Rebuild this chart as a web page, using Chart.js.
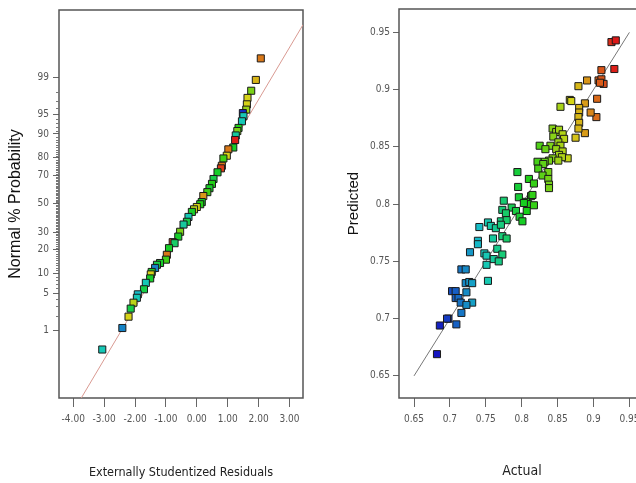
<!DOCTYPE html>
<html>
<head>
<meta charset="utf-8">
<script src="https://cdn.jsdelivr.net/npm/chart.js@4.4.1/dist/chart.umd.min.js"></script>
<style>
  html, body { margin: 0; padding: 0; background: #fff; overflow: hidden; width: 636px; height: 483px; }
  #left { position: absolute; left: 0; top: 0; }
  #right { position: absolute; left: 318px; top: 0; }
</style>
</head>
<body>
<canvas id="left" width="318" height="483"></canvas>
<canvas id="right" width="340" height="483"></canvas>
<script>
// --- normal plot of residuals ---
const residTicks = [-4, -3, -2, -1, 0, 1, 2, 3];
const probTicks = [1, 5, 10, 20, 30, 50, 70, 80, 90, 95, 99];
const probMinor = [2, 3, 4, 6, 7, 8, 9, 11, 12, 13, 14, 15, 16, 17, 18, 19, 21, 22, 23, 24, 25, 26, 27, 28, 29,
  31, 32, 33, 34, 35, 36, 37, 38, 39, 40, 41, 42, 43, 44, 45, 46, 47, 48, 49, 51, 52, 53, 54, 55, 56, 57, 58, 59,
  60, 61, 62, 63, 64, 65, 66, 67, 68, 69, 71, 72, 73, 74, 75, 76, 77, 78, 79, 81, 82, 83, 84, 85, 86, 87, 88, 89,
  91, 92, 93, 94, 96, 97, 98];
const residuals = [2.07, 1.91, 1.76, 1.64, 1.62, 1.60, 1.49, 1.51, 1.46, 1.35, 1.31, 1.26, 1.24, 1.18, 1.02, 0.97,
  0.86, 0.81, 0.78, 0.67, 0.54, 0.49, 0.41, 0.34, 0.21, 0.16, 0.11, 0.00, -0.09, -0.16, -0.27, -0.32, -0.43, -0.54,
  -0.60, -0.78, -0.72, -0.90, -0.97, -1.00, -1.19, -1.29, -1.35, -1.46, -1.49, -1.51, -1.65, -1.71, -1.91, -1.94,
  -2.05, -2.14, -2.21, -2.41, -3.06];
const normalPct = [99.62, 98.85, 98.1, 97.4, 96.6, 95.8, 95.2, 94.6, 93.5, 91.8, 90.9, 89.5, 87.9, 84.9, 84.1, 81.1,
  79.7, 75.7, 74.2, 71.8, 67.5, 64.2, 61.2, 58.4, 55.6, 51.2, 49.6, 47.6, 45.9, 44.0, 40.4, 37.0, 35.1, 30.3,
  27.3, 24.0, 23.4, 20.7, 17.4, 15.2, 13.8, 13.1, 11.9, 10.5, 9.7, 8.5, 7.3, 5.8, 4.8, 4.2,
  3.45, 2.7, 1.9, 1.12, 0.37];
// response value of each run (sets the point colour)
const residShade = [0.90, 0.88, 0.84, 0.87, 0.87, 0.85, 0.69, 0.75, 0.75, 0.81, 0.84, 0.76, 0.93, 0.80, 0.90, 0.87,
  0.82, 0.90, 0.92, 0.80, 0.79, 0.81, 0.80, 0.82, 0.89, 0.80, 0.81, 0.87, 0.86, 0.80, 0.75, 0.79, 0.76, 0.84,
  0.80, 0.92, 0.78, 0.80, 0.90, 0.82, 0.80, 0.79, 0.72, 0.80, 0.87, 0.80, 0.75, 0.79, 0.74, 0.75,
  0.86, 0.79, 0.87, 0.72, 0.75];
const refLineX = [-3.74, 3.44];
const refLineZ = [-3.57, 3.29];

// --- predicted vs actual ---
const fitTicks = [0.65, 0.7, 0.75, 0.8, 0.85, 0.9, 0.95];
const actual = [0.925, 0.931, 0.929, 0.911, 0.907, 0.911, 0.914, 0.909, 0.905, 0.904, 0.896, 0.891, 0.879, 0.888, 0.888,
  0.880, 0.880, 0.879, 0.880, 0.879, 0.875, 0.867, 0.869, 0.854,
  0.843, 0.848, 0.852, 0.857, 0.844, 0.859, 0.851, 0.854, 0.840, 0.825, 0.833, 0.848, 0.857, 0.852, 0.864, 0.856,
  0.843, 0.851, 0.838, 0.832, 0.822, 0.830, 0.823, 0.837, 0.829, 0.837, 0.838, 0.838,
  0.794, 0.810, 0.817, 0.795, 0.796, 0.813, 0.815, 0.806, 0.809, 0.817, 0.803, 0.775, 0.786, 0.792, 0.807, 0.773,
  0.778, 0.797, 0.801, 0.771, 0.779, 0.753, 0.757, 0.764, 0.771, 0.741, 0.773, 0.779, 0.760,
  0.739, 0.739, 0.728, 0.748, 0.751, 0.766, 0.773, 0.761, 0.768, 0.751, 0.716, 0.722, 0.753, 0.722, 0.727, 0.731,
  0.703, 0.708, 0.723, 0.708, 0.712, 0.715, 0.731, 0.723, 0.716, 0.698, 0.696, 0.709, 0.686, 0.682];
const predicted = [0.9415, 0.943, 0.918, 0.917, 0.908, 0.909, 0.905, 0.906, 0.892, 0.876, 0.880, 0.908, 0.903, 0.888, 0.862,
  0.884, 0.880, 0.876, 0.871, 0.866, 0.858, 0.891, 0.890, 0.885,
  0.866, 0.863, 0.865, 0.861, 0.859, 0.857, 0.854, 0.851, 0.851, 0.851, 0.848, 0.848, 0.846, 0.843, 0.840, 0.841,
  0.840, 0.838, 0.838, 0.837, 0.837, 0.835, 0.831, 0.828, 0.825, 0.822, 0.817, 0.814,
  0.828, 0.822, 0.818, 0.815, 0.806, 0.807, 0.808, 0.802, 0.800, 0.799, 0.801, 0.803, 0.797, 0.794, 0.794, 0.795,
  0.792, 0.789, 0.785, 0.785, 0.786, 0.784, 0.781, 0.779, 0.782, 0.780, 0.772, 0.770, 0.770,
  0.768, 0.765, 0.758, 0.757, 0.755, 0.761, 0.756, 0.752, 0.750, 0.747, 0.743, 0.743, 0.733, 0.731, 0.732, 0.731,
  0.724, 0.724, 0.723, 0.718, 0.718, 0.714, 0.714, 0.712, 0.705, 0.700, 0.700, 0.695, 0.694, 0.669];
const diagonal = [0.65, 0.95];

// inverse normal cdf (Acklam) for the probability axis
function probit(p) {
  const a = [-39.69683028665376, 220.9460984245205, -275.9285104469687, 138.3577518672690, -30.66479806614716, 2.506628277459239];
  const b = [-54.47609879822406, 161.5858368580409, -155.6989798598866, 66.80131188771972, -13.28068155288572];
  const c = [-0.007784894002430293, -0.3223964580411365, -2.400758277161838, -2.549732539343734, 4.374664141464968, 2.938163982698783];
  const d = [0.007784695709041462, 0.3224671290700398, 2.445134137142996, 3.754408661907416];
  let q, r;
  if (p < 0.02425) {
    q = Math.sqrt(-2 * Math.log(p));
    return (((((c[0]*q+c[1])*q+c[2])*q+c[3])*q+c[4])*q+c[5]) / ((((d[0]*q+d[1])*q+d[2])*q+d[3])*q+1);
  }
  if (p > 1 - 0.02425) {
    q = Math.sqrt(-2 * Math.log(1 - p));
    return -(((((c[0]*q+c[1])*q+c[2])*q+c[3])*q+c[4])*q+c[5]) / ((((d[0]*q+d[1])*q+d[2])*q+d[3])*q+1);
  }
  q = p - 0.5; r = q * q;
  return (((((a[0]*r+a[1])*r+a[2])*r+a[3])*r+a[4])*r+a[5])*q / (((((b[0]*r+b[1])*r+b[2])*r+b[3])*r+b[4])*r+1);
}

const lo = 0.682, hi = 0.931;
function shade(v) {
  const t = Math.min(1, Math.max(0, (v - lo) / (hi - lo)));
  return `hsl(${Math.round(240 * (1 - t))}, 80%, ${42 + 6 * t}%)`;
}

const narrow = '"DejaVu Sans Condensed", sans-serif';
const sans = '"Liberation Sans", Arial, sans-serif';

const frame = {
  id: 'frame',
  beforeDatasetsDraw(chart) {
    const { ctx, chartArea: a } = chart;
    ctx.save();
    ctx.strokeStyle = '#555';
    ctx.lineWidth = 1.5;
    ctx.strokeRect(a.left, a.top, a.right - a.left, a.bottom - a.top);
    ctx.restore();
  }
};

const minorTicks = {
  id: 'minorTicks',
  afterDraw(chart) {
    if (!chart.options.minorPct) return;
    const { ctx, chartArea: a } = chart;
    const y = chart.scales.y;
    ctx.save();
    ctx.strokeStyle = '#777';
    ctx.lineWidth = 1;
    ctx.beginPath();
    probMinor.forEach(p => {
      const py = Math.round(y.getPixelForValue(probit(p / 100))) + 0.5;
      ctx.moveTo(a.left - 3, py);
      ctx.lineTo(a.left, py);
    });
    ctx.stroke();
    ctx.restore();
  }
};

function axis(extra) {
  return Object.assign({
    type: 'linear',
    border: { display: false },
  }, extra);
}

const tickFont = { family: narrow, size: 10 };
const titleFont = { family: narrow, size: 12.5 };

new Chart(document.getElementById('left'), {
  type: 'scatter',
  data: {
    datasets: [{
      data: residuals.map((r, i) => ({ x: r, y: probit(normalPct[i] / 100) })),
      pointStyle: 'rect',
      pointRadius: 5,
      backgroundColor: residShade.map(shade),
      borderColor: '#1a1a1a',
      borderWidth: 1,
      order: 0
    }, {
      data: refLineX.map((x, i) => ({ x: x, y: refLineZ[i] })),
      showLine: true,
      borderColor: '#d99a92',
      borderWidth: 1,
      pointRadius: 0,
      order: 1
    }]
  },
  options: {
    responsive: false,
    animation: false,
    minorPct: true,
    layout: { padding: { top: 6, right: 15, left: 0, bottom: 0 } },
    plugins: { legend: { display: false }, tooltip: { enabled: false } },
    scales: {
      x: axis({
        min: -4.46, max: 3.436,
        afterFit(s) { s.height = 85; },
        afterBuildTicks(s) { s.ticks = residTicks.map(v => ({ value: v })); },
        grid: { drawOnChartArea: false, color: '#666', tickLength: 9 },
        ticks: { callback: v => v.toFixed(2), color: '#555', font: tickFont, padding: 6, maxRotation: 0, autoSkip: false },
        title: { display: true, text: 'Externally Studentized Residuals', color: '#222', font: titleFont, padding: { top: 0, bottom: 3 } }
      }),
      y: axis({
        min: -3.569, max: 3.558,
        afterFit(s) { s.width = 59; },
        afterBuildTicks(s) { s.ticks = probTicks.map(p => ({ value: probit(p / 100) })); },
        grid: { drawOnChartArea: false, color: '#666', tickLength: 6 },
        ticks: { callback: (v, i) => String(probTicks[i]), color: '#555', font: tickFont, padding: 4, autoSkip: false },
        title: { display: true, text: 'Normal % Probability', color: '#111', font: { family: sans, size: 16 }, padding: { top: 6, bottom: 0 } }
      })
    }
  },
  plugins: [frame, minorTicks]
});

new Chart(document.getElementById('right'), {
  type: 'scatter',
  data: {
    datasets: [{
      data: actual.map((a, i) => ({ x: a, y: predicted[i] })),
      pointStyle: 'rect',
      pointRadius: 5,
      backgroundColor: actual.map(shade),
      borderColor: '#1a1a1a',
      borderWidth: 1,
      order: 0
    }, {
      data: diagonal.map(v => ({ x: v, y: v })),
      showLine: true,
      borderColor: '#777',
      borderWidth: 1,
      pointRadius: 0,
      order: 1
    }]
  },
  options: {
    responsive: false,
    animation: false,
    layout: { padding: { top: 6, right: 13, left: 0, bottom: 0 } },
    plugins: { legend: { display: false }, tooltip: { enabled: false } },
    scales: {
      x: axis({
        min: 0.6291, max: 0.9717,
        afterFit(s) { s.height = 85; },
        afterBuildTicks(s) { s.ticks = fitTicks.map(v => ({ value: v })); },
        grid: { drawOnChartArea: false, color: '#666', tickLength: 9 },
        ticks: { callback: v => String(v), color: '#555', font: tickFont, padding: 6, maxRotation: 0, autoSkip: false },
        title: { display: true, text: 'Actual', color: '#222', font: { family: narrow, size: 14 }, padding: { top: 0, bottom: 3 } }
      }),
      y: axis({
        min: 0.6307, max: 0.9704,
        afterFit(s) { s.width = 81; },
        afterBuildTicks(s) { s.ticks = fitTicks.map(v => ({ value: v })); },
        grid: { drawOnChartArea: false, color: '#666', tickLength: 6 },
        ticks: { callback: v => String(v), color: '#555', font: tickFont, padding: 3, autoSkip: false },
        title: { display: true, text: 'Predicted', color: '#111', font: { family: sans, size: 15 }, padding: { top: 27, bottom: 0 } }
      })
    }
  },
  plugins: [frame]
});
</script>
</body>
</html>
